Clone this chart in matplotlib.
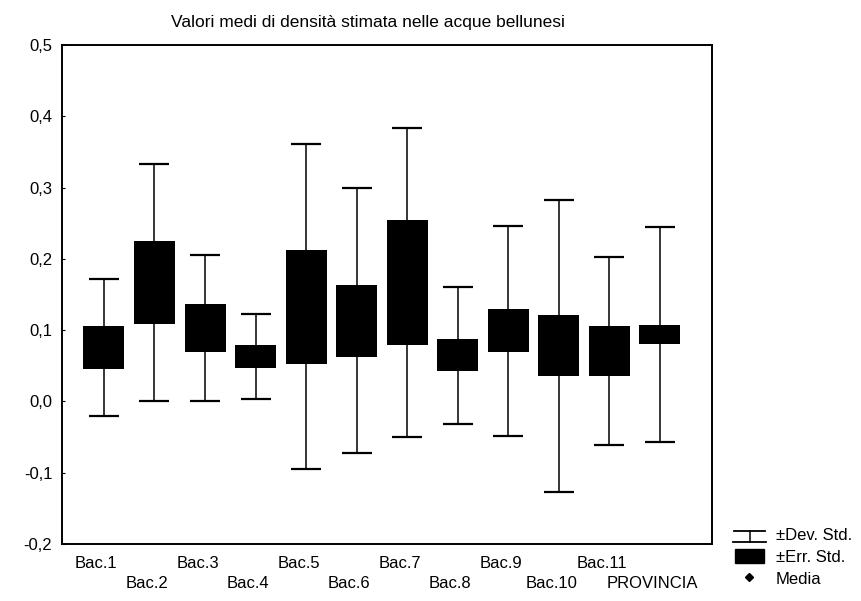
import matplotlib
matplotlib.use("Agg")
import matplotlib.pyplot as plt
import matplotlib.transforms as mtransforms
from matplotlib.lines import Line2D
from matplotlib.patches import Rectangle
import numpy as np

# values (mean, standard error, standard deviation)
categories = ["Bac.1", "Bac.2", "Bac.3", "Bac.4", "Bac.5", "Bac.6",
              "Bac.7", "Bac.8", "Bac.9", "Bac.10", "Bac.11", "PROVINCIA"]
means = [0.076, 0.167, 0.103, 0.063, 0.133, 0.113,
         0.167, 0.065, 0.099, 0.078, 0.071, 0.094]
std_err = [0.030, 0.058, 0.033, 0.016, 0.080, 0.050,
           0.088, 0.023, 0.030, 0.043, 0.035, 0.013]
std_dev = [0.096, 0.166, 0.102, 0.059, 0.228, 0.186,
           0.217, 0.096, 0.147, 0.205, 0.132, 0.151]
y_ticks = [-0.2, -0.1, 0.0, 0.1, 0.2, 0.3, 0.4, 0.5]
legend_labels = ["\u00b1Dev. Std.", "\u00b1Err. Std.", "Media"]

plt.rcParams['font.family'] = ['Liberation Sans', 'DejaVu Sans']

fig = plt.figure(figsize=(8.61, 6.01), dpi=100)
ax = fig.add_axes([62 / 861, 1 - 544 / 601, 650 / 861, 499 / 601])

x = np.arange(len(categories))
m = np.array(means)
se = np.array(std_err)
sd = np.array(std_dev)

# whiskers = mean +/- sd, drawn behind the boxes
ax.errorbar(x, m, yerr=sd, fmt='none', ecolor='black', elinewidth=1.1,
            capsize=10.8, capthick=1.6, zorder=1)
# boxes = mean +/- se
ax.bar(x, 2 * se, bottom=m - se, width=0.81, color='black', zorder=2)
ax.scatter(x, m, marker='D', s=12, color='black', zorder=3)

ax.set_xlim(-0.83, 12.03)
ax.set_ylim(-0.2, 0.5)
ax.set_yticks(y_ticks)
ax.set_yticklabels([f"{v:.1f}".replace('.', ',') for v in y_ticks], fontsize=12)
ax.set_xticks(x)
ax.set_xticklabels([])
ax.tick_params(axis='x', length=0)
ax.tick_params(axis='y', direction='in', length=2, pad=7)
for s in ax.spines.values():
    s.set_linewidth(1.4)

# staggered category labels, two rows
trans = mtransforms.blended_transform_factory(ax.transData, ax.transAxes)
for i, c in enumerate(categories):
    offs = -19 if i % 2 == 0 else -39
    ax.text(x[i] - 0.15, 0, c, transform=trans + mtransforms.ScaledTranslation(0, offs / 100, fig.dpi_scale_trans),
            ha='center', va='center', fontsize=12)

fig.text(368 / 861, 1 - 23 / 601, "Valori medi di densit\u00e0 stimata nelle acque bellunesi",
         ha='center', va='center', fontsize=12.5)

# legend drawn by hand, like the original
tf = fig.transFigure
def fx(px):
    return px / 861
def fy(py):
    return 1 - py / 601
fig.add_artist(Line2D([fx(734), fx(765)], [fy(531), fy(531)], color='black', lw=1.3, transform=tf))
fig.add_artist(Line2D([fx(749.5), fx(749.5)], [fy(531), fy(542)], color='black', lw=1.1, transform=tf))
fig.add_artist(Line2D([fx(733), fx(766)], [fy(542), fy(542)], color='black', lw=1.3, transform=tf))
fig.add_artist(Rectangle((fx(735), fy(563)), fx(764) - fx(735), fy(549) - fy(563),
                         color='black', transform=tf))
fig.add_artist(Line2D([fx(749)], [fy(577)], marker='D', markersize=4, color='black', transform=tf))
for lbl, py in zip(legend_labels, [536, 557, 579]):
    fig.text(fx(776), fy(py), lbl, ha='left', va='center', fontsize=12)

fig.savefig("out.png", dpi=100)
